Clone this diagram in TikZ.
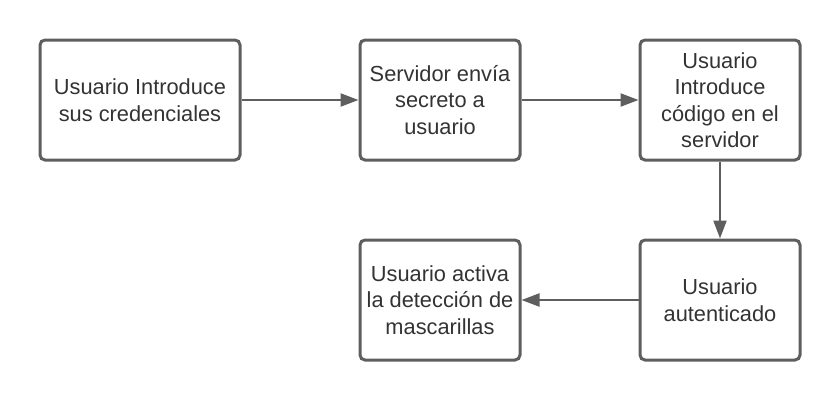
\documentclass[tikz,border=0pt]{standalone}
\usepackage{fontspec}
\setmainfont{Liberation Sans}
\usetikzlibrary{arrows.meta}
\definecolor{edge}{HTML}{5E5E5E}
\definecolor{txt}{HTML}{333333}
\begin{document}
\begin{tikzpicture}[x=1pt,y=-1pt,
  box/.style={draw=edge,line width=3pt,rounded corners=5pt,minimum width=#1,minimum height=120pt,inner sep=0pt,align=center,text=txt,font=\fontsize{21.8}{26.5}\selectfont,fill=white},
  box/.default=160pt,
  conn/.style={draw=edge,line width=2.2pt,-{Triangle[length=18pt,width=13pt]}}]
\useasboundingbox (0,0) rectangle (840,400);
\fill[white] (0,0) rectangle (840,400);
\node[box=200pt] (a) at (140,100) {Usuario Introduce\\sus credenciales};
\node[box] (b) at (440,100) {Servidor envía\\secreto a\\usuario};
\node[box] (c) at (720,100) {Usuario\\Introduce\\código en el\\servidor};
\node[box] (d) at (720,300) {Usuario\\autenticado};
\node[box] (e) at (440,300) {Usuario activa\\la detección de\\mascarillas};
\draw[conn] (a) -- (b);
\draw[conn] (b) -- (c);
\draw[conn] (c) -- (d);
\draw[conn] (d) -- (e);
\end{tikzpicture}
\end{document}
